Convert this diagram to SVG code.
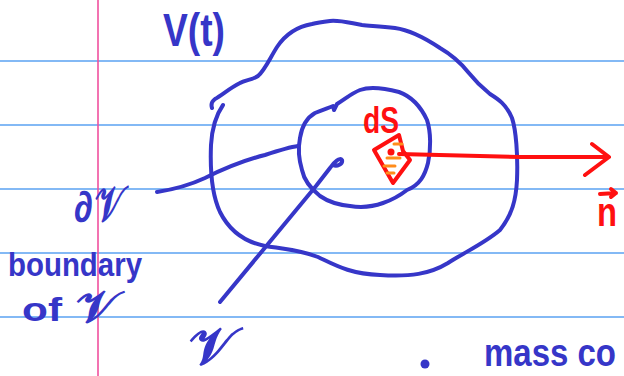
<svg xmlns="http://www.w3.org/2000/svg" width="624" height="376" viewBox="0 0 624 376">
<style>
.rule{stroke:#5aa2f2;stroke-width:1.6;fill:none}
.margin{stroke:#f0509e;stroke-width:1.6;fill:none}
.ink{stroke:#3636c8;stroke-width:4;fill:none;stroke-linecap:round;stroke-linejoin:round}
.red{stroke:#ff1010;stroke-width:4;fill:none;stroke-linecap:round;stroke-linejoin:round}
.hatch{stroke:#ff8c1a;stroke-width:3;stroke-linecap:round}
.tb{fill:#3636c8;font-family:"Liberation Sans","DejaVu Sans",sans-serif;font-weight:bold}
.tr{fill:#ff1010;font-family:"Liberation Sans","DejaVu Sans",sans-serif;font-weight:bold}
.sc{fill:#3636c8;font-family:"DejaVu Sans","Noto Sans",sans-serif;font-weight:bold}
</style>
<rect width="624" height="376" fill="#ffffff"/>
<g id="paper">
<line class="rule" x1="0" y1="61" x2="624" y2="61"/>
<line class="rule" x1="0" y1="125" x2="624" y2="125"/>
<line class="rule" x1="0" y1="189" x2="624" y2="189"/>
<line class="rule" x1="0" y1="253" x2="624" y2="253"/>
<line class="rule" x1="0" y1="317" x2="624" y2="317"/>
<line class="margin" x1="98" y1="0" x2="98" y2="376"/>
</g>
<g id="outer-volume">
<path class="ink" d="M223,105 C216,115 212,128 211,145 C210,170 212,195 220,212 C230,232 245,242 265,246 C285,249 300,250 318,257 C335,265 350,274 380,275 C410,277 430,274 448,263 C465,252 485,243 500,230 C512,215 516,200 517,180 C518,155 516,130 512,118 C506,104 498,99 490,94 C480,86 476,82 468,72 C460,62 452,55 440,48 C425,38 410,30 395,28 C380,26 370,26 362,25 C350,23 340,20 330,21 C322,22 316,23 312,24 C295,27 285,35 277,47 C270,58 265,70 258,76 C252,80 245,80 240,83 C230,88 222,95 215,99 C211,102 211,105 212,108"/>
<text class="tb" x="163" y="46" font-size="46" textLength="62" lengthAdjust="spacingAndGlyphs">V(t)</text>
</g>
<g id="inner-volume">
<path class="ink" d="M300,138 C302,125 308,117 315,113 C322,110 328,108 333,106 L334,110 L337,104 C345,99 352,93 360,90 C368,87 380,87 399,92 C410,96 420,105 427,120 C431,132 431,150 428,163 C425,175 420,185 407,190 C398,197 392,200 383,203 C372,207 362,208 350,206 C340,205 330,203 320,196 C310,188 304,180 302,170 C299,160 298,148 300,138 Z"/>
</g>
<g id="surface-element">
<path class="red" d="M374,150 L399,135 L403,151 L410,160 L393,183 Z"/>
<line class="hatch" x1="394" y1="144" x2="402" y2="144"/>
<line class="hatch" x1="387" y1="158" x2="400" y2="158"/>
<line class="hatch" x1="384" y1="166" x2="395" y2="166"/>
<line class="hatch" x1="387" y1="173" x2="394" y2="173"/>
<circle cx="391" cy="152" r="3.5" fill="#ff1010"/>
<text class="tr" x="363" y="133" font-size="36" textLength="36" lengthAdjust="spacingAndGlyphs">dS</text>
</g>
<g id="normal-label">
<path class="red" d="M600,194 L616,193 M611,189 L616,193 L611,197"/>
<text class="tr" x="597" y="226" font-size="40" textLength="20" lengthAdjust="spacingAndGlyphs">n</text>
</g>
<g id="boundary-label">
<text class="tb" x="74" y="222" font-size="44" textLength="19" lengthAdjust="spacingAndGlyphs">∂</text>
<text class="sc" x="95" y="221" font-size="50" textLength="29" lengthAdjust="spacingAndGlyphs">𝒱</text>
<text class="tb" x="8" y="276" font-size="34" textLength="134" lengthAdjust="spacingAndGlyphs">boundary</text>
<text class="tb" x="22" y="321" font-size="34" textLength="40" lengthAdjust="spacingAndGlyphs">of</text>
<text class="sc" x="76" y="322" font-size="44" textLength="42" lengthAdjust="spacingAndGlyphs">𝒱</text>
</g>
<g id="volume-label">
<text class="sc" x="189" y="364" font-size="52" textLength="46" lengthAdjust="spacingAndGlyphs">𝒱</text>
</g>
<g id="mass-note">
<circle cx="425" cy="364" r="4.5" fill="#3636c8"/>
<text class="tb" x="484" y="366" font-size="38" textLength="132" lengthAdjust="spacingAndGlyphs">mass co</text>
</g>
<g id="connectors">
<path class="ink" d="M157,192 C170,190 190,185 205,178 C225,168 245,160 265,155 C280,150 290,147 298,146"/>
<path class="ink" d="M220,302 L316,186 L330,168 C334,162 340,157 342,160 C343,164 337,167 333,165"/>
<path class="red" d="M399,154 C430,155 470,156 520,157 C560,157 590,157 608,157 M592,144 L609,157 L585,175"/>
</g>
</svg>
